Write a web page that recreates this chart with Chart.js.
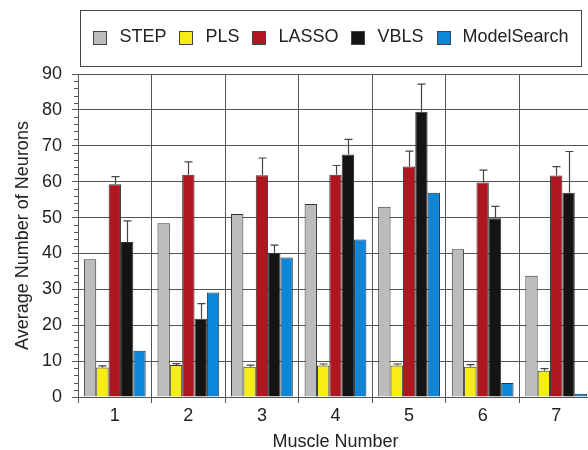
<!DOCTYPE html>
<html>
<head>
<meta charset="utf-8">
<script src="https://cdn.jsdelivr.net/npm/chart.js@4"></script>
<style>
  html, body { margin: 0; padding: 0; background: #fff; overflow: hidden; }
  #wrap { width: 600px; height: 450px; }
</style>
</head>
<body>
<div id="wrap"><canvas id="neuronChart" width="600" height="450"></canvas></div>
<script>
// Data
const muscles = ['1', '2', '3', '4', '5', '6', '7'];
const stepVals = [38.4, 48.4, 51.0, 53.8, 53.0, 41.2, 33.8];
const plsVals = [8.2, 8.9, 8.4, 8.8, 8.8, 8.4, 7.3];
const plsErr = [0.5, 0.4, 0.5, 0.4, 0.4, 0.6, 0.6];
const lassoVals = [59.3, 61.9, 61.8, 61.9, 64.2, 59.8, 61.7];
const lassoErr = [2.1, 3.6, 4.8, 2.6, 4.3, 3.4, 2.5];
const vblsVals = [43.2, 21.8, 40.2, 67.6, 79.5, 49.8, 56.9];
const vblsErr = [5.9, 4.2, 2.1, 4.2, 7.7, 3.3, 11.5];
const modelSearchVals = [12.9, 29.1, 38.9, 43.9, 56.9, 3.9, 0.9];
const yTicks = [0, 10, 20, 30, 40, 50, 60, 70, 80, 90];

const FONT = "'Liberation Sans', Arial, sans-serif";
const gridColor = '#555';

function bar(label, data, color, errors) {
    return {
        label: label,
        data: data,
        errors: errors,
        backgroundColor: color,
        borderColor: '#333',
        borderWidth: 1,
        barPercentage: 1,
        categoryPercentage: 0.84
    };
}

// error bars (upper whisker only)
const errorBars = {
    id: 'errorBars',
    afterDatasetsDraw(chart) {
        const ctx = chart.ctx;
        const yScale = chart.scales.y;
        ctx.save();
        ctx.strokeStyle = '#444';
        ctx.lineWidth = 1.2;
        chart.data.datasets.forEach((ds, di) => {
            if (!ds.errors) return;
            const meta = chart.getDatasetMeta(di);
            meta.data.forEach((el, i) => {
                const x = Math.round(el.x) + 0.5;
                const yTop = yScale.getPixelForValue(ds.data[i] + ds.errors[i]);
                ctx.beginPath();
                ctx.moveTo(x, el.y);
                ctx.lineTo(x, yTop);
                ctx.moveTo(x - 4, yTop);
                ctx.lineTo(x + 4, yTop);
                ctx.stroke();
            });
        });
        ctx.restore();
    }
};

// minor ticks on the y axis, every 2 units
const minorTicks = {
    id: 'minorTicks',
    afterDraw(chart) {
        const ctx = chart.ctx;
        const yScale = chart.scales.y;
        const left = chart.chartArea.left;
        ctx.save();
        ctx.strokeStyle = gridColor;
        ctx.lineWidth = 1;
        for (let v = 2; v < 90; v += 2) {
            if (v % 10 === 0) continue;
            const y = Math.round(yScale.getPixelForValue(v)) + 0.5;
            ctx.beginPath();
            ctx.moveTo(left - 4, y);
            ctx.lineTo(left, y);
            ctx.stroke();
        }
        ctx.restore();
    }
};

// boxed legend on top
const boxLegend = {
    id: 'boxLegend',
    afterDraw(chart) {
        const ctx = chart.ctx;
        const sw = 14, gapIn = 12, gapOut = 13;
        ctx.save();
        ctx.font = '18px ' + FONT;
        const items = chart.data.datasets.map(ds => ({
            label: ds.label,
            color: ds.backgroundColor,
            w: ctx.measureText(ds.label).width
        }));
        let total = 0;
        items.forEach((it, i) => {
            total += sw + gapIn + it.w + (i < items.length - 1 ? gapOut : 0);
        });
        let x = 331 - total / 2;
        const cy = 38;

        ctx.strokeStyle = '#444';
        ctx.lineWidth = 1;
        ctx.strokeRect(80.5, 10.5, 501, 56);

        ctx.textBaseline = 'middle';
        ctx.textAlign = 'left';
        items.forEach(it => {
            ctx.fillStyle = it.color;
            ctx.fillRect(Math.round(x), cy - 7, sw, sw);
            ctx.strokeStyle = '#444';
            ctx.strokeRect(Math.round(x) + 0.5, cy - 6.5, sw - 1, sw - 1);
            x += sw + gapIn;
            ctx.fillStyle = '#222';
            ctx.fillText(it.label, x, cy - 1);
            x += it.w + gapOut;
        });
        ctx.restore();
    }
};

const ctx = document.getElementById('neuronChart').getContext('2d');
const neuronChart = new Chart(ctx, {
    type: 'bar',
    data: {
        labels: muscles,
        datasets: [
            bar('STEP', stepVals, '#bcbcbc', null),
            bar('PLS', plsVals, '#f7ec14', plsErr),
            bar('LASSO', lassoVals, '#b0161f', lassoErr),
            bar('VBLS', vblsVals, '#141414', vblsErr),
            bar('ModelSearch', modelSearchVals, '#0b86d8', null)
        ]
    },
    options: {
        responsive: false,
        animation: false,
        devicePixelRatio: 1,
        layout: { padding: { top: 74, right: 7, bottom: 0, left: 0 } },
        plugins: {
            legend: { display: false },
            tooltip: { enabled: false }
        },
        scales: {
            x: {
                offset: true,
                grid: { offset: true, color: gridColor, lineWidth: 1, tickLength: 6 },
                border: { color: gridColor },
                ticks: { color: '#222', font: { family: FONT, size: 18 }, padding: 2 },
                title: {
                    display: true,
                    text: 'Muscle Number',
                    color: '#222',
                    font: { family: FONT, size: 18, lineHeight: 0.9 },
                    padding: 0
                },
                afterFit(scale) { scale.height = 53; }
            },
            y: {
                min: 0,
                max: 90,
                afterBuildTicks(scale) { scale.ticks = yTicks.map(v => ({ value: v })); },
                grid: { color: gridColor, lineWidth: 1, tickLength: 6 },
                border: { color: gridColor },
                ticks: { color: '#222', font: { family: FONT, size: 18 }, padding: 10 },
                title: {
                    display: true,
                    text: 'Average Number of Neurons',
                    color: '#222',
                    font: { family: FONT, size: 18 },
                    padding: { top: 12 }
                },
                afterFit(scale) { scale.width = 78; }
            }
        }
    },
    plugins: [errorBars, minorTicks, boxLegend]
});
</script>
</body>
</html>
